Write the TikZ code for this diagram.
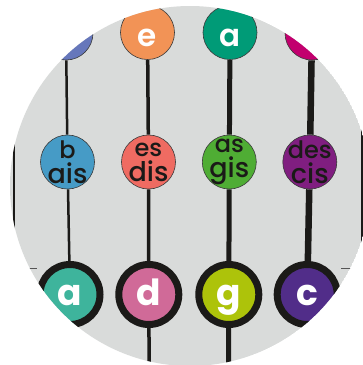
\documentclass[tikz,border=0pt]{standalone}
\usepackage{fontspec}
\setmainfont{Poppins}[UprightFont={* Medium},BoldFont={* SemiBold}]
\newfontfamily\dick{Poppins}[UprightFont={* Bold}]
\usetikzlibrary{calc}
\definecolor{grau}{HTML}{D9DBDA}
\definecolor{schwarz}{HTML}{1B1A18}
\definecolor{rand}{HTML}{3A3A3A}
\definecolor{steg}{HTML}{555555}
% obere Reihe
\definecolor{oben1}{HTML}{6677BB}
\definecolor{oben2}{HTML}{F29356}
\definecolor{oben3}{HTML}{009B77}
\definecolor{oben4}{HTML}{C2006E}
% mittlere Reihe
\definecolor{mitte1}{HTML}{469BC6}
\definecolor{mitte2}{HTML}{EF6B62}
\definecolor{mitte3}{HTML}{4FAD34}
\definecolor{mitte4}{HTML}{801E80}
% untere Reihe
\definecolor{unten1}{HTML}{3EB49C}
\definecolor{unten2}{HTML}{D06A98}
\definecolor{unten3}{HTML}{ADC30A}
\definecolor{unten4}{HTML}{512D89}
\newcommand{\klein}[1]{{\fontsize{24}{25}\selectfont #1}}

\begin{document}
\begin{tikzpicture}[
		x=1pt, y=-1pt,				% 1 Einheit = 1 Pixel, y nach unten
		oben/.style={circle, draw=rand, line width=0.6pt, minimum size=54pt, inner sep=0pt,
			text=white, font=\fontsize{31}{31}\selectfont\bfseries, text height=28pt, text depth=0pt},
		mitte/.style={circle, draw=rand, line width=0.6pt, minimum size=54pt, inner sep=-6pt,
			text=schwarz, align=center, font=\fontsize{27}{25}\selectfont},
		unten/.style={circle, draw=schwarz, line width=7pt, minimum size=60pt, inner sep=0pt,
			text=white, font=\fontsize{36}{36}\selectfont\dick, text height=21pt, text depth=0pt},
		saite/.style={draw=schwarz},	% Saiten
		stegline/.style={draw=steg, line width=1pt}
	]
	
	\useasboundingbox (0,0) rectangle (363,365);
	\clip (190,186) circle (180pt);
	\fill[grau] (190,186) circle (180pt);
	
	% Knoten obere Reihe
	\node[oben, fill=oben1] (o1) at (66,33) {};
	\node[oben, fill=oben2] (o2) at (147.5,32.5) {e};
	\node[oben, fill=oben3] (o3) at (230,32.5) {a};
	\node[oben, fill=oben4] (o4) at (312,33) {};
	
	% Knoten mittlere Reihe
	\node[mitte, fill=mitte1] (m1) at (67.5,162) {\klein{b}\\ais};
	\node[mitte, fill=mitte2] (m2) at (148.5,162) {\klein{es}\\dis};
	\node[mitte, fill=mitte3] (m3) at (229.3,162) {\klein{as}\\gis};
	\node[mitte, fill=mitte4] (m4) at (309.8,162) {\klein{des}\\cis};
	
	% Knoten untere Reihe
	\node[unten, fill=unten1] (u1) at (70,294.5) {a};
	\node[unten, fill=unten2] (u2) at (148.8,294.5) {d};
	\node[unten, fill=unten3] (u3) at (228.8,294.5) {g};
	\node[unten, fill=unten4] (u4) at (307.2,294.5) {c};
	
	% Enden unten und Rand
	\coordinate (e1) at (71,380);
	\coordinate (e2) at (149.2,380);
	\coordinate (e3) at (228.6,380);
	\coordinate (e4) at (306,380);
	\coordinate (stegL) at (0,268);
	\coordinate (stegR) at (363,268);
	\coordinate (randL1) at (14.3,100);
	\coordinate (randL2) at (14.3,280);
	\coordinate (randR1) at (361.8,100);
	\coordinate (randR2) at (361.8,280);
	
	% Saiten, von duenn nach dick
	\draw[saite, line width=2.5pt] (o1) -- (m1) -- (u1) -- (e1);
	\draw[saite, line width=3.5pt] (o2) -- (m2) -- (u2) -- (e2);
	\draw[saite, line width=5pt] (o3) -- (m3) -- (u3) -- (e3);
	\draw[saite, line width=6.5pt] (o4) -- (m4) -- (u4) -- (e4);
	\draw[saite, line width=2pt] (randL1) -- (randL2);
	\draw[saite, line width=2pt] (randR1) -- (randR2);
	
	% Steg
	\draw[stegline] (stegL) -- (stegL -| u1.west);
	\draw[stegline] (stegR) -- (stegR -| u4.east);
	
\end{tikzpicture}
\end{document}
